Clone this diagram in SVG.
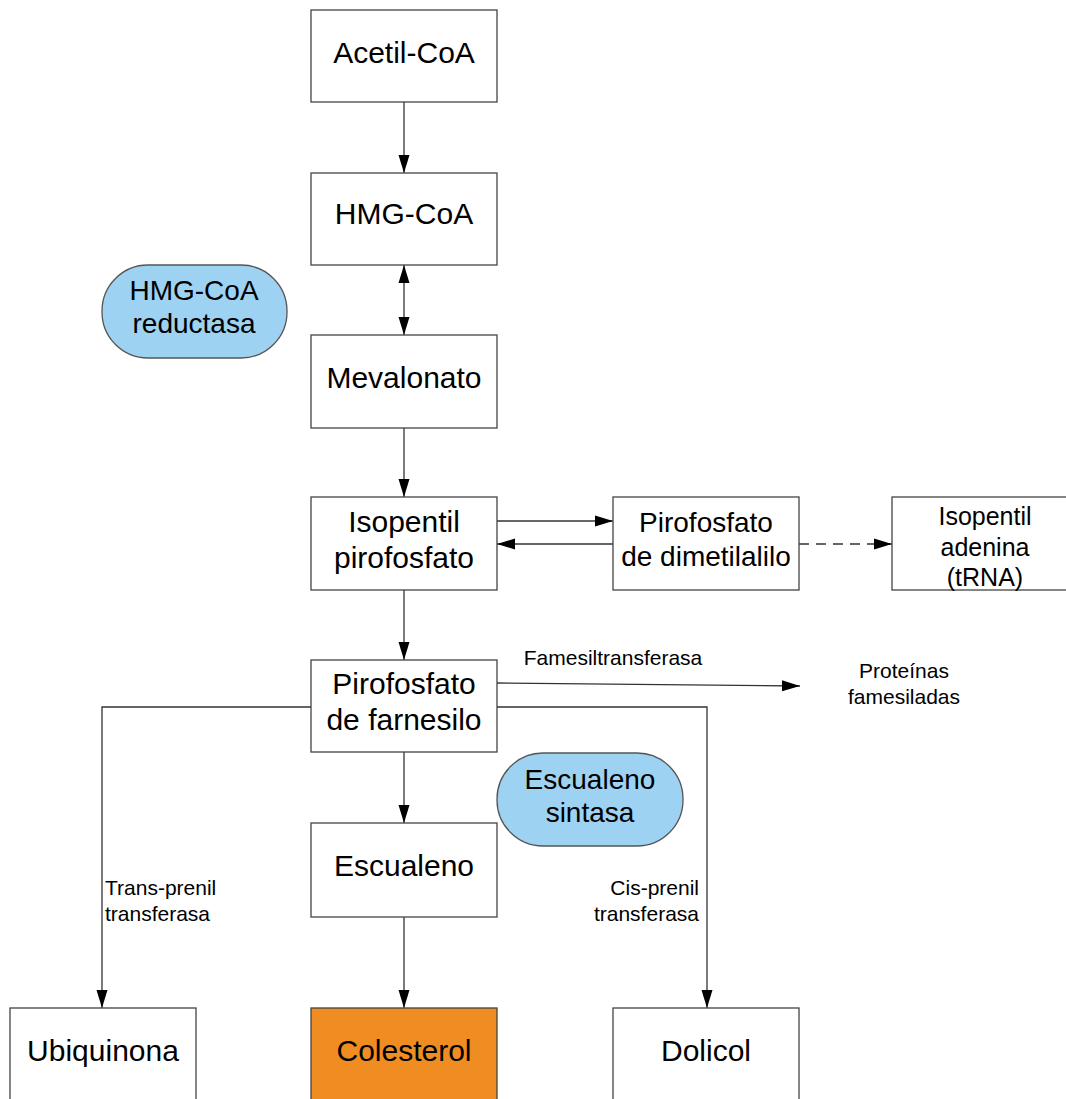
<svg xmlns="http://www.w3.org/2000/svg" width="1066" height="1099" viewBox="0 0 1066 1099">
<style>
.box{fill:#fff;stroke:#444;stroke-width:1.3}
.pill{fill:#9dd2f2;stroke:#555;stroke-width:1.3}
.t{font-family:"Liberation Sans",Arial,sans-serif;fill:#000;text-anchor:middle}
.big{font-size:30px}
.mid{font-size:28px}
.sm{font-size:25px}
.lab{font-size:21px}
.ln{fill:none;stroke:#333;stroke-width:1.3}
</style>
<defs>
<marker id="ah" markerWidth="18" markerHeight="12" refX="18" refY="6" orient="auto" markerUnits="userSpaceOnUse">
<path d="M0,0.5 L18,6 L0,11.5 Z" fill="#000"/>
</marker>
<marker id="ahs" markerWidth="18" markerHeight="12" refX="0" refY="6" orient="auto" markerUnits="userSpaceOnUse">
<path d="M18,0.5 L0,6 L18,11.5 Z" fill="#000"/>
</marker>
</defs>
<rect width="1066" height="1099" fill="#fff"/>
<g id="connectors">
<line class="ln" x1="404" y1="102" x2="404" y2="173" marker-end="url(#ah)"/>
<line class="ln" x1="404" y1="265" x2="404" y2="335" marker-start="url(#ahs)" marker-end="url(#ah)"/>
<line class="ln" x1="404" y1="428" x2="404" y2="497" marker-end="url(#ah)"/>
<line class="ln" x1="497" y1="521" x2="613" y2="521" marker-end="url(#ah)"/>
<line class="ln" x1="613" y1="544" x2="497" y2="544" marker-end="url(#ah)"/>
<line class="ln" x1="799" y1="544" x2="892" y2="544" stroke-dasharray="10,7" marker-end="url(#ah)"/>
<line class="ln" x1="404" y1="590" x2="404" y2="660" marker-end="url(#ah)"/>
<line class="ln" x1="497" y1="683" x2="800" y2="686" marker-end="url(#ah)"/>
<line class="ln" x1="404" y1="752" x2="404" y2="823" marker-end="url(#ah)"/>
<line class="ln" x1="404" y1="917" x2="404" y2="1008" marker-end="url(#ah)"/>
<polyline class="ln" points="311,707 102,707 102,1008" marker-end="url(#ah)"/>
<polyline class="ln" points="497,707 707,707 707,1008" marker-end="url(#ah)"/>
<text class="t lab" x="613" y="665">Famesiltransferasa</text>
<text class="t lab" x="904" y="678">Proteínas</text>
<text class="t lab" x="904" y="704">famesiladas</text>
<text class="t lab" x="105" y="895" style="text-anchor:start">Trans-prenil</text>
<text class="t lab" x="105" y="921" style="text-anchor:start">transferasa</text>
<text class="t lab" x="699" y="895" style="text-anchor:end">Cis-prenil</text>
<text class="t lab" x="699" y="921" style="text-anchor:end">transferasa</text>
</g>
<g id="acetil">
<rect class="box" x="311" y="10" width="186" height="92"/>
<text class="t big" x="404" y="63">Acetil-CoA</text>
</g>
<g id="hmgcoa">
<rect class="box" x="311" y="173" width="186" height="92"/>
<text class="t big" x="404" y="224">HMG-CoA</text>
</g>
<g id="hmgred">
<rect class="pill" x="102" y="265" width="185" height="93" rx="46" ry="46"/>
<text class="t mid" x="194" y="300">HMG-CoA</text>
<text class="t mid" x="194" y="333">reductasa</text>
</g>
<g id="mevalonato">
<rect class="box" x="311" y="335" width="186" height="93"/>
<text class="t big" x="404" y="388">Mevalonato</text>
</g>
<g id="isopentil">
<rect class="box" x="311" y="497" width="186" height="93"/>
<text class="t big" x="404" y="532">Isopentil</text>
<text class="t big" x="404" y="568">pirofosfato</text>
</g>
<g id="dimetilalilo">
<rect class="box" x="613" y="497" width="186" height="93"/>
<text class="t mid" x="706" y="532">Pirofosfato</text>
<text class="t mid" x="706" y="566">de dimetilalilo</text>
</g>
<g id="adenina">
<rect class="box" x="892" y="497" width="186" height="93"/>
<text class="t sm" x="985" y="525">Isopentil</text>
<text class="t sm" x="985" y="556">adenina</text>
<text class="t sm" x="985" y="586">(tRNA)</text>
</g>
<g id="farnesilo">
<rect class="box" x="311" y="660" width="186" height="92"/>
<text class="t big" x="404" y="694">Pirofosfato</text>
<text class="t big" x="404" y="730">de farnesilo</text>
</g>
<g id="escsintasa">
<rect class="pill" x="497" y="753" width="186" height="93" rx="46" ry="46"/>
<text class="t mid" x="590" y="789">Escualeno</text>
<text class="t mid" x="590" y="822">sintasa</text>
</g>
<g id="escualeno">
<rect class="box" x="311" y="823" width="186" height="94"/>
<text class="t big" x="404" y="876">Escualeno</text>
</g>
<g id="ubiquinona">
<rect class="box" x="10" y="1008" width="186" height="100"/>
<text class="t big" x="103" y="1061">Ubiquinona</text>
</g>
<g id="colesterol">
<rect class="box" x="311" y="1008" width="186" height="100" style="fill:#ef8d22"/>
<text class="t big" x="404" y="1061">Colesterol</text>
</g>
<g id="dolicol">
<rect class="box" x="613" y="1008" width="186" height="100"/>
<text class="t big" x="706" y="1061">Dolicol</text>
</g>
</svg>
